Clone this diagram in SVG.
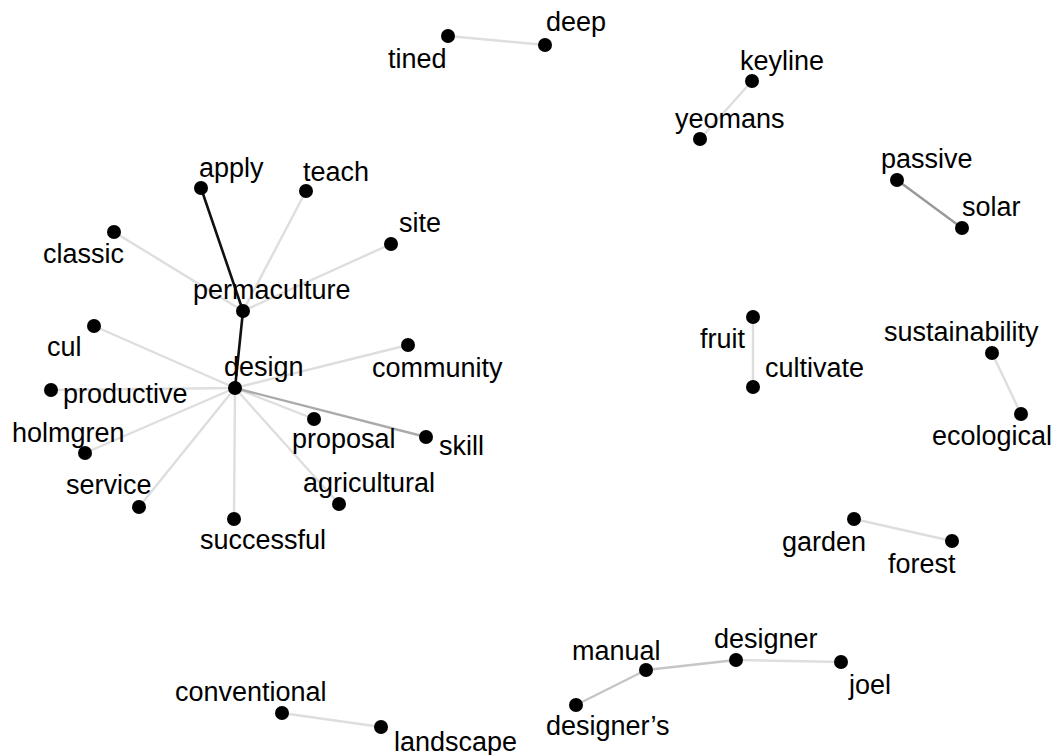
<svg xmlns="http://www.w3.org/2000/svg" width="1054" height="755" viewBox="0 0 1054 755">
<style>
.e{stroke:#dedede;stroke-width:2.4;fill:none;stroke-linecap:round}
.e2{stroke:#aaaaaa}
.e3{stroke:#c6c6c6}
.e4{stroke:#999999}
.ek{stroke:#111111;stroke-width:2.6}
circle{fill:#000}
text{font-family:"Liberation Sans",Arial,sans-serif;font-size:27px;fill:#000}
</style>
<rect width="1054" height="755" fill="#fff"/>
<g id="connectors">
<line class="e" x1="448" y1="36" x2="545" y2="45"/>
<line class="e" x1="752" y1="81" x2="700" y2="139"/>
<line class="e e4" x1="897" y1="180" x2="962" y2="228"/>
<line class="e" x1="753" y1="317" x2="753" y2="387"/>
<line class="e" x1="992" y1="353" x2="1021" y2="414"/>
<line class="e" x1="854" y1="519" x2="952" y2="541"/>
<line class="e e3" x1="576" y1="705" x2="646" y2="670"/>
<line class="e e3" x1="646" y1="670" x2="736" y2="660"/>
<line class="e" x1="736" y1="660" x2="841" y2="662"/>
<line class="e" x1="282" y1="713" x2="381" y2="727"/>
<line class="e" x1="114" y1="232" x2="243" y2="311"/>
<line class="e" x1="306" y1="191" x2="243" y2="311"/>
<line class="e" x1="391" y1="244" x2="243" y2="311"/>
<line class="e" x1="235" y1="388" x2="94" y2="326"/>
<line class="e" x1="235" y1="388" x2="408" y2="345"/>
<line class="e" x1="235" y1="388" x2="51" y2="390"/>
<line class="e" x1="235" y1="388" x2="85" y2="453"/>
<line class="e" x1="235" y1="388" x2="139" y2="507"/>
<line class="e" x1="235" y1="388" x2="234" y2="519"/>
<line class="e" x1="235" y1="388" x2="339" y2="504"/>
<line class="e" x1="235" y1="388" x2="314" y2="419"/>
<line class="e e2" x1="235" y1="388" x2="426" y2="437"/>
<line class="e ek" x1="201" y1="188" x2="243" y2="311"/>
<line class="e ek" x1="243" y1="311" x2="235" y2="388"/>
</g>
<g id="tined"><circle cx="448" cy="36" r="7"/><text x="388" y="68">tined</text></g>
<g id="deep"><circle cx="545" cy="45" r="7"/><text x="546" y="31">deep</text></g>
<g id="keyline"><circle cx="752" cy="81" r="7"/><text x="740" y="70">keyline</text></g>
<g id="yeomans"><circle cx="700" cy="139" r="7"/><text x="675" y="128">yeomans</text></g>
<g id="passive"><circle cx="897" cy="180" r="7"/><text x="881" y="168">passive</text></g>
<g id="solar"><circle cx="962" cy="228" r="7"/><text x="962" y="216">solar</text></g>
<g id="fruit"><circle cx="753" cy="317" r="7"/><text x="700" y="348">fruit</text></g>
<g id="cultivate"><circle cx="753" cy="387" r="7"/><text x="765" y="377">cultivate</text></g>
<g id="sustainability"><circle cx="992" cy="353" r="7"/><text x="884" y="341">sustainability</text></g>
<g id="ecological"><circle cx="1021" cy="414" r="7"/><text x="932" y="445">ecological</text></g>
<g id="garden"><circle cx="854" cy="519" r="7"/><text x="782" y="551">garden</text></g>
<g id="forest"><circle cx="952" cy="541" r="7"/><text x="888" y="573">forest</text></g>
<g id="designers"><circle cx="576" cy="705" r="7"/><text x="546" y="735">designer’s</text></g>
<g id="manual"><circle cx="646" cy="670" r="7"/><text x="572" y="660">manual</text></g>
<g id="designer"><circle cx="736" cy="660" r="7"/><text x="714" y="648">designer</text></g>
<g id="joel"><circle cx="841" cy="662" r="7"/><text x="849" y="694">joel</text></g>
<g id="conventional"><circle cx="282" cy="713" r="7"/><text x="175" y="701">conventional</text></g>
<g id="landscape"><circle cx="381" cy="727" r="7"/><text x="394" y="751">landscape</text></g>
<g id="apply"><circle cx="201" cy="188" r="7"/><text x="199" y="177">apply</text></g>
<g id="teach"><circle cx="306" cy="191" r="7"/><text x="303" y="181">teach</text></g>
<g id="site"><circle cx="391" cy="244" r="7"/><text x="399" y="232">site</text></g>
<g id="classic"><circle cx="114" cy="232" r="7"/><text x="43" y="263">classic</text></g>
<g id="permaculture"><circle cx="243" cy="311" r="7"/><text x="193" y="299">permaculture</text></g>
<g id="cul"><circle cx="94" cy="326" r="7"/><text x="47" y="356">cul</text></g>
<g id="community"><circle cx="408" cy="345" r="7"/><text x="372" y="377">community</text></g>
<g id="design"><circle cx="235" cy="388" r="7"/><text x="224" y="376">design</text></g>
<g id="productive"><circle cx="51" cy="390" r="7"/><text x="63" y="403">productive</text></g>
<g id="holmgren"><circle cx="85" cy="453" r="7"/><text x="12" y="442">holmgren</text></g>
<g id="proposal"><circle cx="314" cy="419" r="7"/><text x="292" y="448">proposal</text></g>
<g id="skill"><circle cx="426" cy="437" r="7"/><text x="439" y="455">skill</text></g>
<g id="service"><circle cx="139" cy="507" r="7"/><text x="66" y="494">service</text></g>
<g id="agricultural"><circle cx="339" cy="504" r="7"/><text x="303" y="492">agricultural</text></g>
<g id="successful"><circle cx="234" cy="519" r="7"/><text x="200" y="549">successful</text></g>
</svg>
